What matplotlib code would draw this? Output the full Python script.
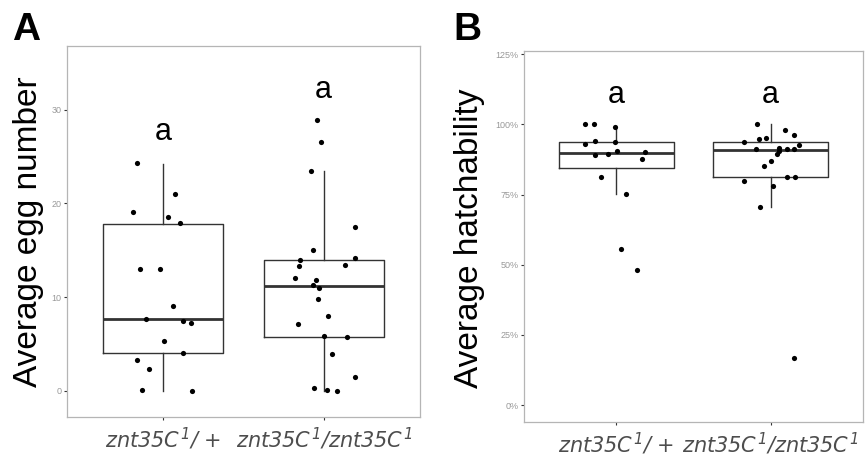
import numpy as np
import matplotlib
matplotlib.use('Agg')
import matplotlib.pyplot as plt
from matplotlib.ticker import PercentFormatter

plt.rcParams['font.family'] = ['Liberation Sans', 'DejaVu Sans']
plt.rcParams['mathtext.fontset'] = 'custom'
plt.rcParams['mathtext.it'] = 'DejaVu Sans:italic'
plt.rcParams['mathtext.rm'] = 'DejaVu Sans:italic'

# Genotypes (x axis)
genotypes = [r'$znt35C^{1}$/ +', r'$znt35C^{1}$/$znt35C^{1}$']

# Panel A: average egg number, per fly (jitter offsets)
egg_het = [24.3, 21.0, 19.1, 18.6, 17.9, 13.0, 13.0, 9.0, 7.7, 7.5, 7.2, 5.3, 4.0, 3.3, 2.3, 0.1, 0.0]
egg_het_jit = [-0.162, 0.075, -0.187, 0.031, 0.106, -0.143, -0.019, 0.062, -0.106, 0.125,
               0.174, 0.006, 0.125, -0.162, -0.087, -0.131, 0.181]
egg_hom = [28.9, 26.6, 23.5, 17.5, 15.0, 14.0, 13.3, 14.2, 13.4, 12.0, 11.8, 11.3, 11.0, 9.8,
           8.0, 7.1, 5.8, 5.7, 3.9, 1.5, 0.3, 0.1, 0.0]
egg_hom_jit = [-0.044, -0.019, -0.081, 0.193, -0.069, -0.150, -0.156, 0.193, 0.131, -0.181,
               -0.050, -0.067, -0.031, -0.037, 0.025, -0.158, 0.004, 0.143, 0.050, 0.195,
               -0.058, 0.019, 0.081]
# box stats: whisker low, Q1, median, Q3, whisker high
egg_box_het = [0.0, 4.0, 7.7, 17.8, 24.2]
egg_box_hom = [0.0, 5.7, 11.2, 14.0, 23.5]
egg_letters = ['a', 'a']
egg_letter_y = [26.8, 31.2]

# Panel B: average hatchability (%)
hat_het = [100, 100, 98.9, 93.1, 93.9, 93.6, 88.9, 89.5, 90.5, 90.2, 87.8, 81.3, 75.1, 55.7, 48.2]
hat_het_jit = [-0.205, -0.146, -0.010, -0.205, -0.140, -0.010, -0.140, -0.055, 0.003, 0.185,
               0.166, -0.101, 0.062, 0.029, 0.133]
hat_hom = [100, 97.8, 96.2, 95.0, 94.6, 93.6, 92.6, 91.1, 91.5, 91.1, 91.1, 90.4, 89.4, 87.1,
           85.2, 81.3, 81.3, 79.7, 78.1, 70.6, 16.7]
hat_hom_jit = [-0.091, 0.091, 0.149, -0.032, -0.078, -0.175, 0.182, -0.097, 0.058, 0.110,
               0.149, 0.058, 0.045, 0.0, -0.045, 0.104, 0.156, -0.175, 0.013, -0.071, 0.149]
hat_box_het = [75.1, 84.4, 89.9, 93.6, 99.4]
hat_box_hom = [70.5, 81.3, 90.9, 93.8, 100]
hat_letters = ['a', 'a']
hat_letter_y = [107.6, 107.6]


def stats(b):
    return dict(whislo=b[0], q1=b[1], med=b[2], q3=b[3], whishi=b[4], fliers=[])


def panel(ax, vals, jits, boxes, letters, letter_y, ylim, yticks):
    ax.bxp([stats(b) for b in boxes], positions=[1, 2], widths=0.75, showfliers=False,
           showcaps=False,
           boxprops=dict(color='#333333', linewidth=1.0),
           whiskerprops=dict(color='#333333', linewidth=1.0),
           medianprops=dict(color='#333333', linewidth=2.0))
    for i, (v, j) in enumerate(zip(vals, jits)):
        ax.scatter(np.array(j) + i + 1, v, s=14, color='black', zorder=3, linewidths=0)
    for i, (t, y) in enumerate(zip(letters, letter_y)):
        ax.text(i + 1, y, t, ha='center', va='baseline', fontsize=22)
    ax.set_xlim(0.4, 2.6)
    ax.set_ylim(*ylim)
    ax.set_yticks(yticks)
    ax.set_xticks([1, 2])
    ax.set_xticklabels(genotypes, fontsize=15, color='#4d4d4d', style='italic',
                       family='DejaVu Sans')
    ax.tick_params(axis='y', labelsize=6.5, labelcolor='#999999', color='#333333',
                   length=2.5, width=0.8, pad=1.5)
    ax.tick_params(axis='x', color='#333333', length=2.5, width=0.8, pad=4)
    for s in ax.spines.values():
        s.set_color('#b5b5b5')
        s.set_linewidth(0.9)


fig = plt.figure(figsize=(8.65, 4.57), dpi=100)
axA = fig.add_axes([67 / 865, 40 / 457, 353 / 865, 371 / 457])
axB = fig.add_axes([524 / 865, 35 / 457, 339 / 865, 371 / 457])

panel(axA, [egg_het, egg_hom], [egg_het_jit, egg_hom_jit], [egg_box_het, egg_box_hom],
      egg_letters, egg_letter_y, (-2.8, 36.8), [0, 10, 20, 30])
panel(axB, [hat_het, hat_hom], [hat_het_jit, hat_hom_jit], [hat_box_het, hat_box_hom],
      hat_letters, hat_letter_y, (-6.0, 126.1), [0, 25, 50, 75, 100, 125])
axB.yaxis.set_major_formatter(PercentFormatter(xmax=100, decimals=0))

fig.text(28.5 / 865, 1 - 232 / 457, 'Average egg number', rotation=90,
         ha='center', va='center', fontsize=24)
fig.text(470 / 865, 1 - 238 / 457, 'Average hatchability', rotation=90,
         ha='center', va='center', fontsize=24)
fig.text(12 / 865, 1 - 40 / 457, 'A', fontsize=28, fontweight='bold', va='baseline')
fig.text(453 / 865, 1 - 40 / 457, 'B', fontsize=28, fontweight='bold', va='baseline')

fig.savefig('out.png', dpi=100)
